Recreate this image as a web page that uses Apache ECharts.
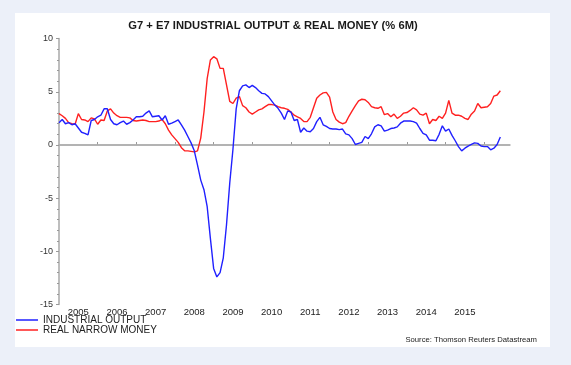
<!DOCTYPE html>
<html><head><meta charset="utf-8">
<script src="https://cdn.jsdelivr.net/npm/echarts@6/dist/echarts.min.js"></script>
<style>html,body{margin:0;padding:0;background:#ecf0f9;}#c{width:571px;height:365px;}</style>
</head><body><div id="c"></div>
<script>
// Year tick labels (centred on each calendar year)
const yearLabels = ['2005','2006','2007','2008','2009','2010','2011','2012','2013','2014','2015'];
const firstYear = 2005;
const axisMonths = 141; // Jan 2005 .. Sep 2016

// G7 + E7 industrial output, % 6m, monthly from Jan 2005
const industrialOutput = [
  2.1, 2.4, 2.0, 2.1, 1.9, 2.0, 1.6, 1.2, 1.1, 0.95, 2.3, 2.4,
  2.65, 2.8, 3.4, 3.4, 2.4, 2.0, 1.9, 2.1, 2.25, 1.95, 2.1, 2.35,
  2.65, 2.65, 2.7, 3.0, 3.2, 2.65, 2.7, 2.75, 2.35, 2.75, 1.95, 2.05,
  2.2, 2.35, 1.9, 1.4, 0.8, 0.2, -0.55, -1.9, -3.3, -4.2, -5.8, -8.8,
  -11.6, -12.4, -12.0, -10.6, -7.5, -3.6, -0.4, 3.4, 5.1, 5.55, 5.65, 5.4,
  5.6, 5.4, 5.1, 4.85, 4.8, 4.55, 4.15, 3.75, 3.45, 3.0, 2.4, 3.2,
  3.1, 2.3, 2.4, 1.2, 1.6, 1.3, 1.25, 1.55, 2.2, 2.6, 1.9, 1.75,
  1.55, 1.5, 1.5, 1.45, 1.5, 1.05, 0.95, 0.6, 0.05, 0.15, 0.25, 0.8,
  0.6, 1.05, 1.7, 1.9, 1.8, 1.3, 1.4, 1.55, 1.6, 1.7, 2.05, 2.25,
  2.25, 2.25, 2.2, 2.05, 1.55, 1.1, 0.95, 0.45, 0.45, 0.4, 1.0, 1.8,
  1.3, 1.5, 0.9, 0.4, -0.15, -0.55, -0.3, -0.1, 0.05, 0.2, 0.15, -0.1,
  -0.15, -0.15, -0.45, -0.3, 0.05, 0.75
];

// G7 + E7 real narrow money, % 6m, monthly from Jan 2005
const realNarrowMoney = [
  2.95, 2.75, 2.5, 2.1, 2.0, 1.95, 2.95, 2.4, 2.35, 2.2, 2.55, 2.45,
  1.95, 2.35, 2.3, 3.2, 3.4, 3.0, 2.75, 2.6, 2.6, 2.6, 2.55, 2.3,
  2.25, 2.3, 2.35, 2.3, 2.2, 2.2, 2.2, 2.25, 2.4, 2.0, 1.4, 0.95,
  0.6, 0.25, -0.25, -0.55, -0.55, -0.6, -0.65, -0.55, 0.65, 3.1, 6.25, 8.0,
  8.3, 8.1, 7.2, 7.2, 5.65, 4.1, 3.9, 4.4, 4.55, 3.7, 3.5, 3.1,
  2.9, 3.1, 3.3, 3.4, 3.6, 3.8, 3.8, 3.75, 3.6, 3.5, 3.45, 3.35,
  3.1, 2.8, 2.65, 2.5, 2.2, 2.2, 2.6, 3.5, 4.4, 4.7, 4.9, 4.95,
  4.5, 3.1, 2.4, 2.15, 2.0, 2.1, 2.7, 3.2, 3.7, 4.15, 4.3, 4.25,
  4.0, 3.6, 3.5, 3.45, 3.6, 2.85, 2.95, 2.65, 2.9, 2.5, 2.7, 3.0,
  3.05, 3.25, 3.5, 3.3, 2.9, 2.8, 3.0, 2.0, 2.4, 2.3, 2.7, 2.5,
  3.0, 4.2, 3.0, 2.8, 2.8, 2.7, 2.5, 2.4, 2.9, 3.2, 3.9, 3.5,
  3.55, 3.6, 3.9, 4.6, 4.7, 5.1
];

const seriesNames = ['INDUSTRIAL OUTPUT', 'REAL NARROW MONEY'];
const titleText = 'G7 + E7 INDUSTRIAL OUTPUT & REAL MONEY (% 6M)';
const sourceText = 'Source: Thomson Reuters Datastream';

const months = [];
for (let i = 0; i < axisMonths; i++) {
  const y = firstYear + Math.floor(i / 12);
  const m = (i % 12) + 1;
  months.push(y + '-' + (m < 10 ? '0' + m : m));
}

const FONT = 'Liberation Sans, Arial, sans-serif';
const chart = echarts.init(document.getElementById('c'));
chart.setOption({
  backgroundColor: '#ecf0f9',
  animation: false,
  textStyle: { fontFamily: FONT },
  graphic: [
    { type: 'rect', z: -10, silent: true, shape: { x: 15, y: 13, width: 535, height: 334 }, style: { fill: '#ffffff' } },
    { type: 'text', silent: true, style: { text: sourceText, x: 537, y: 340, align: 'right', verticalAlign: 'middle', fontSize: 7.7, fontFamily: FONT, fill: '#222' } }
  ],
  title: {
    text: titleText, left: 273, top: 20, textAlign: 'center', padding: 0,
    textStyle: { fontSize: 11.2, fontWeight: 'bold', color: '#1a1a1a', fontFamily: FONT }
  },
  legend: {
    data: seriesNames, orient: 'vertical', left: 16, top: 315, padding: 0,
    itemWidth: 22, itemHeight: 1.5, itemGap: 0, icon: 'rect',
    textStyle: { fontSize: 10, color: '#222', lineHeight: 9, fontFamily: FONT }
  },
  grid: { left: 59, right: 61, top: 38.6, bottom: 60.4, containLabel: false },
  xAxis: {
    type: 'category', data: months, boundaryGap: false,
    axisLine: { lineStyle: { color: '#a8a8a8', width: 1.5 } },
    axisTick: { show: true, inside: true, length: 3, interval: (i) => i % 12 === 0 && i > 0, lineStyle: { color: '#999' } },
    axisLabel: {
      interval: (i) => i % 12 === 6 && Math.floor(i / 12) < yearLabels.length,
      formatter: (v, i) => yearLabels[Math.floor(i / 12)] || '',
      fontSize: 9.5, color: '#222', margin: 3
    },
    splitLine: { show: false }
  },
  yAxis: {
    type: 'value', min: -15, max: 10, interval: 5,
    axisLine: { show: true, lineStyle: { color: '#a8a8a8', width: 1.5 } },
    axisTick: { show: true, length: 3, lineStyle: { color: '#999' } },
    minorTick: { show: true, splitNumber: 5, length: 2, lineStyle: { color: '#999' } },
    splitLine: { show: false },
    axisLabel: { fontSize: 9, color: '#333', margin: 6 }
  },
  series: [
    {
      name: seriesNames[0], type: 'line', data: industrialOutput, showSymbol: false, symbol: 'none',
      lineStyle: { color: '#2020ff', width: 1.4 }, itemStyle: { color: '#2020ff' }, z: 3,
      markLine: { silent: true, symbol: 'none', label: { show: false }, lineStyle: { color: '#b0b0b0', width: 1.5, type: 'solid' }, data: [{ yAxis: 0 }], z: 1 }
    },
    {
      name: seriesNames[1], type: 'line', data: realNarrowMoney, showSymbol: false, symbol: 'none',
      lineStyle: { color: '#ff2020', width: 1.4 }, itemStyle: { color: '#ff2020' }, z: 2
    }
  ]
});
</script></body></html>
